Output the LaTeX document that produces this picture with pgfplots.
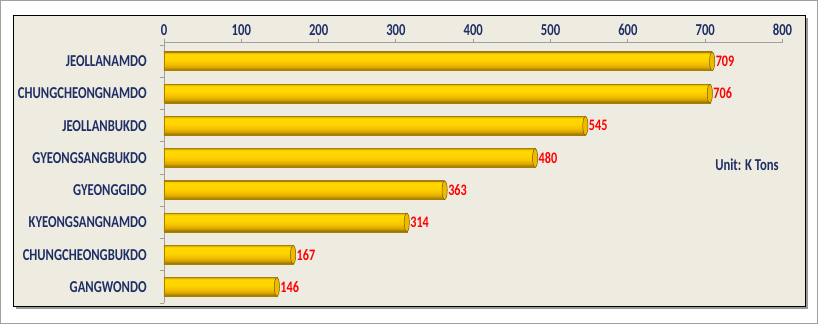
\documentclass[border=0pt]{standalone}
\usepackage{pgfplots}
\pgfplotsset{compat=1.18}
\usepackage{fontspec}
\setmainfont{Carlito}[FakeStretch=0.76]
\newfontfamily\labfont{Carlito}[FakeStretch=0.76]
\definecolor{navy}{HTML}{1F2F66}
\definecolor{panelbg}{HTML}{EEECE1}
\definecolor{goldedge}{HTML}{A88000}
\definecolor{capfill}{HTML}{EDBA00}
\definecolor{capdraw}{HTML}{7E5E00}
\definecolor{axgray}{HTML}{A0A0A0}
\definecolor{gA}{HTML}{8C6A00}
\definecolor{gB}{HTML}{DDA800}
\definecolor{gC}{HTML}{F7C400}
\definecolor{gD}{HTML}{FFD400}
\definecolor{gE}{HTML}{FFD900}
\definecolor{gF}{HTML}{F5C800}
\definecolor{gG}{HTML}{C89B10}
\pgfdeclareverticalshading{goldbar}{100bp}{color(0bp)=(gA); color(25bp)=(gA); color(35bp)=(gB); color(45bp)=(gC); color(55bp)=(gD); color(68bp)=(gE); color(72bp)=(gF); color(75bp)=(gG); color(100bp)=(gG)}
\pgfplotsset{
  goldbar/.style={xbar, bar width=0.58, bar shift=0pt, draw=goldedge, line width=0.4pt,
    shading=goldbar, nodes near coords,
    nodes near coords style={font=\labfont\bfseries\fontsize{12}{12}\selectfont, text=red, anchor=west, xshift=1.5pt, inner sep=1pt}}
}
\begin{document}
\begin{tikzpicture}
\useasboundingbox (0,0) rectangle (613.5pt,243pt);
\begin{scope}[x=0.75pt,y=0.75pt]
\fill[white] (0,0) rectangle (818,324);
\draw[axgray, line width=1.1pt] (0.75,0.75) rectangle (817.25,323.25);
\fill[black!40] (15.5,14.5) rectangle (807.5,305.5);
\filldraw[fill=panelbg, draw=black, line width=0.75pt] (13,17) rectangle (805,308);
\end{scope}
\begin{axis}[
  at={(123pt,15.75pt)}, anchor=south west,
  width=463.9pt, height=195.75pt, scale only axis,
  xmin=0, xmax=800, ymin=-0.5, ymax=7.6,
  axis x line*=top, axis y line*=left,
  axis line style={axgray, line width=0.7pt},
  tick style={axgray, line width=0.7pt},
  tick align=outside,
  major tick length=2.5pt, minor tick length=3pt,
  xtick={0,100,...,800},
  ytick={0,...,7},
  yticklabels={GANGWONDO,CHUNGCHEONGBUKDO,KYEONGSANGNAMDO,GYEONGGIDO,GYEONGSANGBUKDO,JEOLLANBUKDO,CHUNGCHEONGNAMDO,JEOLLANAMDO},
  minor ytick={-0.5,0.5,...,7.5},
  major y tick style={draw=none},
  /pgf/number format/assume math mode=true,
  xticklabel style={font=\labfont\bfseries\fontsize{12.5}{12.5}\selectfont, text=navy, yshift=-1pt},
  yticklabel style={font=\labfont\bfseries\fontsize{12.5}{12.5}\selectfont, text=navy, xshift=-7pt},
  clip=false,
]
\addplot[goldbar] coordinates {(709,7)};
\addplot[goldbar] coordinates {(706,6)};
\addplot[goldbar] coordinates {(545,5)};
\addplot[goldbar] coordinates {(480,4)};
\addplot[goldbar] coordinates {(363,3)};
\addplot[goldbar] coordinates {(314,2)};
\addplot[goldbar] coordinates {(167,1)};
\addplot[goldbar] coordinates {(146,0)};
\addplot[only marks, mark=*, mark size=7pt,
  mark options={xscale=0.28, fill=capfill, draw=capdraw, line width=0.4pt}]
  coordinates {(709,7) (706,6) (545,5) (480,4) (363,3) (314,2) (167,1) (146,0)};
\end{axis}
\begin{scope}[x=0.75pt,y=0.75pt]
\node[font=\labfont\bfseries\fontsize{12.5}{12.5}\selectfont, text=navy] at (747,159) {Unit: K Tons};
\end{scope}
\end{tikzpicture}
\end{document}
